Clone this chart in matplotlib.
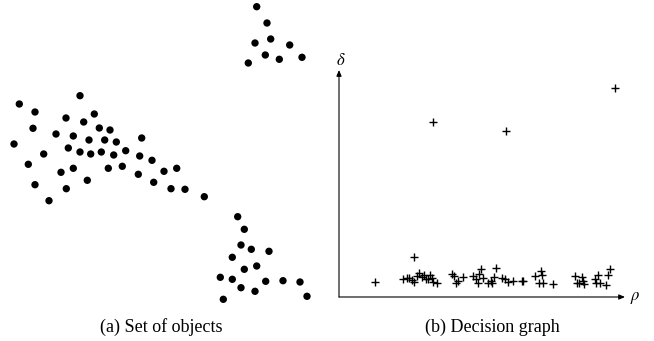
import matplotlib
matplotlib.use("Agg")
import matplotlib.pyplot as plt

plt.rcParams['mathtext.fontset'] = 'stix'

# (a) objects, positions (x right, y down)
obj_x = [80, 19.3, 35, 94.3, 66, 83.7, 33, 99.3, 110, 56, 73.3, 14, 89, 104.7,
         116.3, 141.7, 68.3, 80, 90.7, 101.3, 43.7, 113.7, 125.7, 139.7, 152,
         28.3, 73.3, 61, 108.3, 122.3, 164, 176.7, 138.3, 87.3, 153.7, 35, 66.3,
         171, 185, 49, 204.3,
         256.7, 267, 255, 270.7, 289.7, 265.3, 279.3, 302, 248.3,
         237.7, 244.3, 241, 251.3, 269, 232.3, 256.7, 244.3, 220.3, 232.3, 265.7,
         283, 300, 241, 255, 307, 223.3]
obj_y = [95.7, 104, 112, 114, 118, 122, 128.3, 128, 130, 134, 136, 144, 140, 140,
         142, 138, 148, 152, 154, 152, 154, 155, 150.7, 156, 160.3,
         164.3, 168.3, 172.3, 168.3, 166.3, 171.3, 168.3, 174.3, 180.3, 182.3, 184.7, 188.7,
         188.7, 189.3, 200.7, 196.7,
         6.7, 23, 43, 39, 45, 55, 59.3, 57.3, 63,
         216.7, 229.3, 245, 249.3, 251.3, 257.3, 266, 269.3, 277.3, 279.3, 281.3,
         280.7, 282, 287.7, 291.3, 296.3, 299.3]

# (b) decision graph, rho / delta
rho = [35.7, 75, 64.3, 67.7, 70.3, 72.7, 75, 77.7, 80, 82.7, 85, 87, 89.3, 91,
       92.7, 94.3, 98.3,
       112.7, 115, 117, 119.3, 124.3, 134.3, 137, 141.7, 140.3, 139.3, 143.7,
       149.3, 151.7, 155, 157, 152.7, 162.7, 166, 169.3, 173.7, 182.7,
       183.7, 196, 201.7, 202.7, 200.3, 203.7, 213.7, 236, 237.7, 242.7, 243.7,
       240.3, 245, 256, 259.3, 257, 261, 267, 269.3, 271,
       93.7, 166.7, 276]
delta = [15, 40.3, 18, 18.7, 18.7, 17, 14.7, 21, 24.3, 20.3, 22, 17.7, 17.7, 21.7,
         18.7, 15.3, 14.3,
         23, 21.3, 14.3, 16.3, 19.7, 21, 17.7, 27.7, 23, 13.7, 18.7,
         14.3, 16.3, 20.3, 28.7, 13.7, 18.7, 17.7, 15.3, 16.3, 16.3,
         16.3, 21, 26.3, 22, 14.3, 14.3, 13, 21, 14.3, 19.7, 16.3,
         13.7, 13, 17.7, 22, 13.7, 13.7, 12.3, 22, 27.7,
         175, 166.3, 209.3]

W, H = 654, 341
fig = plt.figure(figsize=(W / 100, H / 100), dpi=100)

# left panel
ax1 = fig.add_axes([0, 0, 327 / W, 1])
ax1.scatter(obj_x, obj_y, s=28, c='black', edgecolors='none')
ax1.set_xlim(0, 327)
ax1.set_ylim(H, 0)
ax1.axis('off')

# right panel, origin at pixel (339, 297)
x0, y0 = 339, 297
ax2 = fig.add_axes([x0 / W, (H - y0) / H, 286 / W, 227 / H])
ax2.set_xlim(0, 286)
ax2.set_ylim(0, 227)
ax2.plot(rho, delta, '+', color='black', markersize=6, markeredgewidth=1.0)
ax2.axis('off')
arrow = dict(arrowstyle='-|>,head_length=0.35,head_width=0.15', color='black',
             lw=0.8, shrinkA=0, shrinkB=0)
ax2.annotate('', xy=(0, 1.0), xytext=(0, 0), xycoords='axes fraction',
             arrowprops=arrow)
ax2.annotate('', xy=(1.0, 0), xytext=(0, 0), xycoords='axes fraction',
             arrowprops=arrow)
ax2.text(0.005, 1.045, r'$\delta$', transform=ax2.transAxes, ha='center',
         va='center', fontsize=12)
ax2.text(1.035, 0, r'$\rho$', transform=ax2.transAxes, ha='center',
         va='center', fontsize=12)

# captions
cap = dict(fontsize=13, family='Liberation Serif', ha='center', va='center')
fig.text(161 / W, (H - 327) / H, '(a) Set of objects', **cap)
fig.text(492 / W, (H - 327) / H, '(b) Decision graph', **cap)

fig.savefig('out.png', dpi=100)
